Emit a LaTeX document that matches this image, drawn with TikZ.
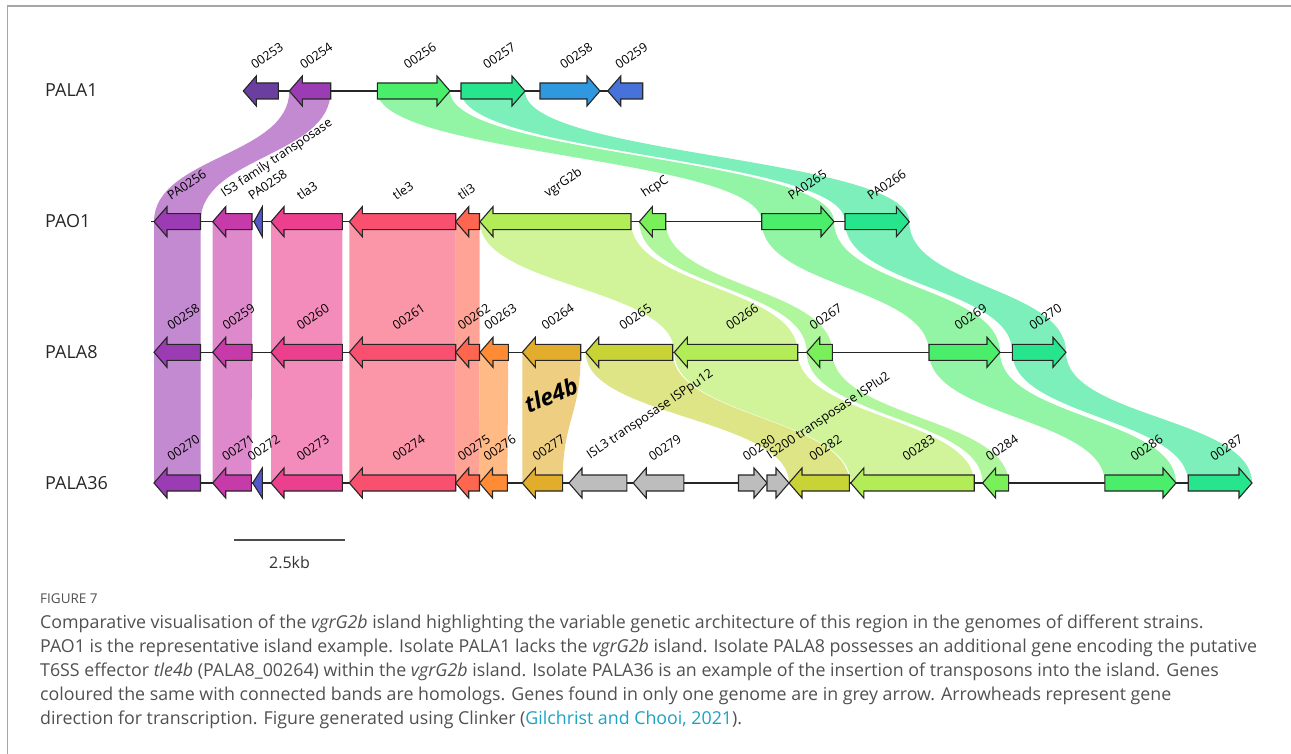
\documentclass[tikz,border=0pt]{standalone}
\usepackage{fontspec}
\setmainfont{Open Sans}
\usetikzlibrary{calc, backgrounds}

\definecolor{cViolet}{HTML}{6B3FA0}
\definecolor{cPurple}{HTML}{9B3CB4}
\definecolor{cMagenta}{HTML}{C63AAA}
\definecolor{cIndigo}{HTML}{5257C9}
\definecolor{cPink}{HTML}{EC3F8E}
\definecolor{cRed}{HTML}{F9506F}
\definecolor{cCoral}{HTML}{FF6650}
\definecolor{cOrange}{HTML}{FF8C34}
\definecolor{cGold}{HTML}{E3AD2C}
\definecolor{cOlive}{HTML}{C8D335}
\definecolor{cLime}{HTML}{B2EC57}
\definecolor{cLeaf}{HTML}{79F05A}
\definecolor{cGreen}{HTML}{4AEE6A}
\definecolor{cTeal}{HTML}{27E58C}
\definecolor{cSky}{HTML}{2F98DE}
\definecolor{cBlue}{HTML}{4672DA}
\definecolor{cGrey}{HTML}{BDBDBD}
\definecolor{capgrey}{HTML}{505050}
\definecolor{citeblue}{HTML}{1AA3C2}

% gene pointing right: name, start, end, row, colour, label
\newcommand{\rgene}[6]{%
  \pgfmathsetmacro{\hb}{max(#2,#3-13)}%
  \coordinate (#1-l) at (#2,#4);
  \coordinate (#1-r) at (#3,#4);
  \filldraw[gene, fill=#5] (#2,#4-8) -- (\hb,#4-8) -- (\hb,#4-15) -- (#3,#4)
    -- (\hb,#4+15) -- (\hb,#4+8) -- (#2,#4+8) -- cycle;
  \node[gname] (#1-t) at ({(#2+#3)/2-6},{#4-21}) {#6};
}
% gene pointing left
\newcommand{\lgene}[6]{%
  \pgfmathsetmacro{\hb}{min(#3,#2+13)}%
  \coordinate (#1-l) at (#2,#4);
  \coordinate (#1-r) at (#3,#4);
  \filldraw[gene, fill=#5] (#3,#4-8) -- (\hb,#4-8) -- (\hb,#4-15) -- (#2,#4)
    -- (\hb,#4+15) -- (\hb,#4+8) -- (#3,#4+8) -- cycle;
  \node[gname] (#1-t) at ({(#2+#3)/2-6},{#4-21}) {#6};
}
% homolog band between two genes of neighbouring rows
\newcommand{\band}[3]{%
  \fill[band, fill=#3] (#1-l) .. controls +(0,65) and +(0,-65) .. (#2-l)
    -- (#2-r) .. controls +(0,-65) and +(0,65) .. (#1-r) -- cycle;
}

\begin{document}
\begin{tikzpicture}[
    x=1pt, y=-1pt,
    gene/.style={draw=black!85, line width=1.1pt, line join=miter},
    band/.style={fill opacity=0.6},
    gname/.style={font=\fontsize{12.5}{12.5}\selectfont, anchor=south west,
                  rotate=34, inner sep=0pt},
    rowname/.style={font=\fontsize{18}{18}\selectfont, anchor=base west,
                    text=black!85, inner sep=0pt},
    chrom/.style={line width=1.2pt, black!85},
    capline/.style={font=\fontsize{17.8}{17.8}\selectfont, anchor=base west,
                    text=capgrey, inner sep=0pt}
  ]
    \useasboundingbox (0,0) rectangle (1291,754);
    \draw[black!35, line width=1.5pt] (7.5,754) -- (7.5,6) -- (1291,6);

    % Row names
    \node[rowname] (pala1) at (45,97) {PALA1};
    \node[rowname] (pao1) at (45,228) {PAO1};
    \node[rowname] (pala8) at (45,358) {PALA8};
    \node[rowname] (pala36) at (45,489) {PALA36};

    % Genome lines
    \draw[chrom] (243,91) -- (643,91);
    \draw[chrom] (151,221.7) -- (909,221.7);
    \draw[chrom] (154,352.3) -- (1066,352.3);
    \draw[chrom] (154,483) -- (1252,483);

    % PALA1
    \lgene{a253}{243.3}{278.3}{91}{cViolet}{00253}
    \lgene{a254}{289.3}{330.7}{91}{cPurple}{00254}
    \rgene{a256}{377.3}{450}{91}{cGreen}{00256}
    \rgene{a257}{461}{525}{91}{cTeal}{00257}
    \rgene{a258}{540}{600}{91}{cSky}{00258}
    \lgene{a259}{607.7}{642.7}{91}{cBlue}{00259}

    % PAO1
    \lgene{p256}{154}{200.5}{221.7}{cPurple}{PA0256}
    \lgene{p257}{212.7}{252}{221.7}{cMagenta}{IS3 family transposase}
    \lgene{p258}{254}{262.3}{221.7}{cIndigo}{PA0258}
    \lgene{tla}{271}{342.3}{221.7}{cPink}{tla3}
    \lgene{tle}{349.3}{455.7}{221.7}{cRed}{tle3}
    \lgene{tli}{455.7}{479.5}{221.7}{cCoral}{tli3}
    \lgene{vgr}{480}{631}{221.7}{cLime}{vgrG2b}
    \lgene{hcp}{639.3}{665.7}{221.7}{cLeaf}{hcpC}
    \rgene{p265}{761.7}{834}{221.7}{cGreen}{PA0265}
    \rgene{p266}{845}{909.3}{221.7}{cTeal}{PA0266}

    % PALA8
    \lgene{b258}{154}{200.5}{352.3}{cPurple}{00258}
    \lgene{b259}{212.7}{252}{352.3}{cMagenta}{00259}
    \lgene{b260}{271}{342.3}{352.3}{cPink}{00260}
    \lgene{b261}{349.3}{455.7}{352.3}{cRed}{00261}
    \lgene{b262}{455.7}{479.5}{352.3}{cCoral}{00262}
    \lgene{b263}{480}{508.3}{352.3}{cOrange}{00263}
    \lgene{b264}{522.3}{580.7}{352.3}{cGold}{00264}
    \lgene{b265}{585.7}{672.7}{352.3}{cOlive}{00265}
    \lgene{b266}{674.3}{797.7}{352.3}{cLime}{00266}
    \lgene{b267}{806.7}{832.3}{352.3}{cLeaf}{00267}
    \rgene{b269}{929}{1000}{352.3}{cGreen}{00269}
    \rgene{b270}{1012.3}{1066}{352.3}{cTeal}{00270}

    % PALA36
    \lgene{c270}{154}{200.5}{483}{cPurple}{00270}
    \lgene{c271}{212.7}{251.3}{483}{cMagenta}{00271}
    \lgene{c272}{252.7}{262.3}{483}{cIndigo}{00272}
    \lgene{c273}{271}{342.3}{483}{cPink}{00273}
    \lgene{c274}{349.3}{455.7}{483}{cRed}{00274}
    \lgene{c275}{455.7}{479.5}{483}{cCoral}{00275}
    \lgene{c276}{479.5}{507.3}{483}{cOrange}{00276}
    \lgene{c277}{522.3}{562.6}{483}{cGold}{00277}
    \lgene{c278}{569}{626.8}{483}{cGrey}{ISL3 transposase ISPpu12}
    \lgene{c279}{633.2}{683.9}{483}{cGrey}{00279}
    \rgene{c280}{738.5}{767}{483}{cGrey}{00280}
    \rgene{c281}{767}{789}{483}{cGrey}{IS200 transposase ISPlu2}
    \lgene{c282}{789}{849.3}{483}{cOlive}{00282}
    \lgene{c283}{850.8}{974.2}{483}{cLime}{00283}
    \lgene{c284}{982.6}{1008.6}{483}{cLeaf}{00284}
    \rgene{c286}{1104.9}{1176}{483}{cGreen}{00286}
    \rgene{c287}{1188.2}{1252}{483}{cTeal}{00287}

    % Homolog bands
    \begin{scope}[on background layer]
      \band{a254}{p256}{cPurple}
      \band{a256}{p265}{cGreen}
      \band{a257}{p266}{cTeal}
      \band{p256}{b258}{cPurple}
      \band{p257}{b259}{cMagenta}
      \band{tla}{b260}{cPink}
      \band{tle}{b261}{cRed}
      \band{tli}{b262}{cCoral}
      \band{vgr}{b266}{cLime}
      \band{hcp}{b267}{cLeaf}
      \band{p265}{b269}{cGreen}
      \band{p266}{b270}{cTeal}
      \band{b258}{c270}{cPurple}
      \band{b259}{c271}{cMagenta}
      \band{b260}{c273}{cPink}
      \band{b261}{c274}{cRed}
      \band{b262}{c275}{cCoral}
      \band{b263}{c276}{cOrange}
      \band{b264}{c277}{cGold}
      \band{b265}{c282}{cOlive}
      \band{b266}{c283}{cLime}
      \band{b267}{c284}{cLeaf}
      \band{b269}{c286}{cGreen}
      \band{b270}{c287}{cTeal}
    \end{scope}

    \node[font=\fontsize{23}{23}\selectfont\bfseries\itshape, rotate=22] (tle4b) at (551,395) {tle4b};

    % Scale bar
    \coordinate (sb-l) at (234,540);
    \coordinate (sb-r) at (345,540);
    \draw[black!70, line width=1.3pt] (sb-l) -- (sb-r);
    \node[font=\fontsize{16}{16}\selectfont, text=black!80] (sbtext) at (289.5,563) {2.5kb};

    % Caption
    \node[font=\fontsize{13.5}{13.5}\selectfont, anchor=base west, text=capgrey, inner sep=0pt] (fig) at (40,603) {FIGURE 7};
    \node[capline] (cap1) at (40,628) {Comparative visualisation of the \textit{vgrG2b} island highlighting the variable genetic architecture of this region in the genomes of different strains.};
    \node[capline] (cap2) at (40,652) {PAO1 is the representative island example. Isolate PALA1 lacks the \textit{vgrG2b} island. Isolate PALA8 possesses an additional gene encoding the putative};
    \node[capline] (cap3) at (40,676) {T6SS effector \textit{tle4b} (PALA8\_00264) within the \textit{vgrG2b} island. Isolate PALA36 is an example of the insertion of transposons into the island. Genes};
    \node[capline] (cap4) at (40,700) {coloured the same with connected bands are homologs. Genes found in only one genome are in grey arrow. Arrowheads represent gene};
    \node[capline] (cap5) at (40,724) {direction for transcription. Figure generated using Clinker (\textcolor{citeblue}{Gilchrist and Chooi, 2021}).};
\end{tikzpicture}
\end{document}
